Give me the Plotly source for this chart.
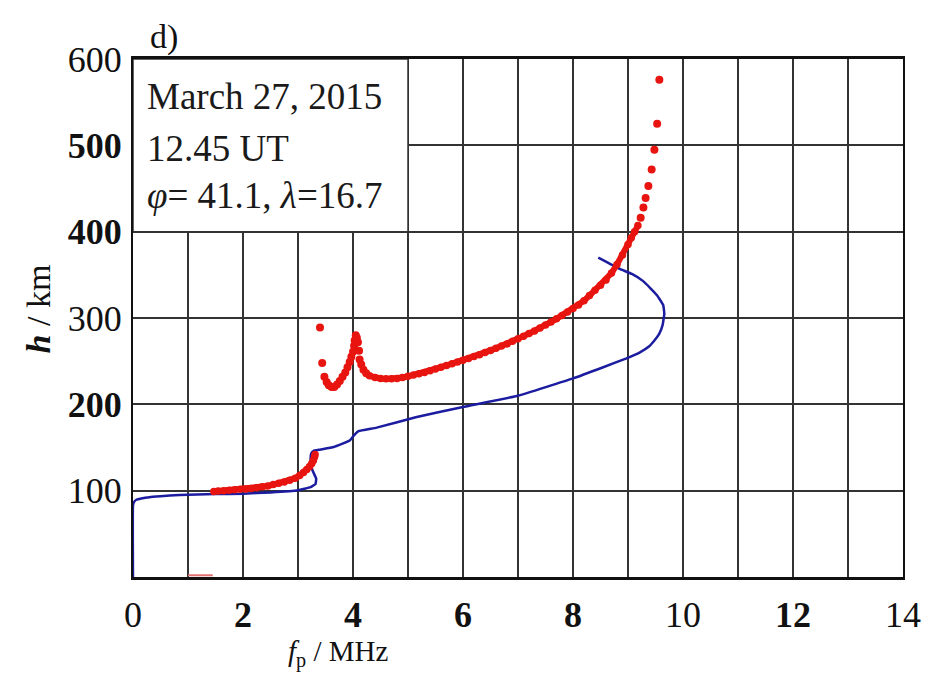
import plotly.graph_objects as go

# ---- data ----
# blue model profile (f_p in MHz, h in km)
blue_f = [0.0, 0.0, 0.02, 0.06, 0.15, 0.3, 0.5, 0.84, 1.5, 2.0, 2.5, 3.0, 3.23, 3.32, 3.33,
          3.26, 3.23, 3.24, 3.28, 3.4, 3.65, 3.94, 4.03, 4.1, 4.43, 5.14, 6.0, 7.0, 8.0,
          8.55, 8.96, 9.21, 9.38, 9.48, 9.57, 9.63, 9.66, 9.64, 9.53, 9.4, 9.27, 9.07, 8.85, 8.46]
blue_h = [0, 83, 87, 89.5, 91, 92.5, 93.5, 95, 96, 96.5, 98, 100.5, 104, 108, 114,
          124, 135, 143, 146, 147.5, 150.5, 158, 165, 169, 173, 185, 197, 210, 230,
          243, 253, 260, 267, 274, 282, 292, 305, 315, 326, 335, 343, 351, 357, 370]

# red measured points: lower (E-layer) branch
red_low_f = [1.47, 1.55, 1.65, 1.75, 1.85, 1.95, 2.05, 2.15, 2.25, 2.35, 2.45, 2.55, 2.65,
             2.75, 2.85, 2.95, 3.03, 3.1, 3.16, 3.21, 3.25, 3.28, 3.3, 3.31]
red_low_h = [99, 99.5, 100, 100.5, 101, 101.5, 102, 102.5, 103.5, 104.5, 105.5, 107, 108.5,
             110, 112, 114.5, 117.5, 121, 124.5, 128, 131.5, 135, 139, 142]

# red measured points: isolated points before the cusp
red_iso_f = [3.4, 3.44]
red_iso_h = [289, 248]

# red measured points: cusp near 3.5-4.3 MHz
red_cusp_f = [3.48, 3.52, 3.56, 3.61, 3.66, 3.71, 3.76, 3.81, 3.86, 3.9, 3.94,
              3.97, 4.0, 4.02, 4.03, 4.05, 4.07, 4.09, 4.11, 4.12, 4.15, 4.19, 4.24]
red_cusp_h = [232, 226, 222, 220, 220, 223, 227, 232, 237, 243, 249,
              255, 261, 268, 274, 280, 277, 272, 262, 252, 246, 240, 236]

# red measured points: F-layer branch (dense part)
red_f_f = [4.3, 4.4, 4.5, 4.6, 4.7, 4.8, 4.9, 5.0, 5.1, 5.2, 5.3, 5.4, 5.5, 5.6, 5.7, 5.8,
           5.9, 6.0, 6.1, 6.2, 6.3, 6.4, 6.5, 6.6, 6.7, 6.8, 6.9, 7.0, 7.1, 7.2, 7.3, 7.4,
           7.5, 7.6, 7.7, 7.8, 7.9, 8.0, 8.1, 8.2, 8.3, 8.4, 8.5, 8.6, 8.7, 8.8, 8.9, 9.0,
           9.06, 9.12, 9.18]
red_f_h = [233, 231, 230, 229.5, 229.5, 230, 231, 232.5, 234, 235.5, 237, 239, 241, 243, 245, 247,
           249, 251, 253, 255.5, 257.5, 260, 262.5, 265, 267.5, 270, 273, 276, 279, 282, 285, 288.5,
           292, 295.5, 299, 303, 307, 311, 315, 320, 326, 332, 338, 344, 352, 362, 373, 385,
           393, 400, 407]

# red measured points: sparse top of the F branch
red_top_f = [9.23, 9.28, 9.32, 9.37, 9.43, 9.48, 9.53, 9.57]
red_top_h = [416, 428, 439, 453, 472, 495, 525, 576]

# small red mark at the base of the plot
red_base_f = [1.0, 1.45]
red_base_h = [2, 2]

x_ticks = [0, 2, 4, 6, 8, 10, 12, 14]
x_labels = ["0", "<b>2</b>", "<b>4</b>", "<b>6</b>", "<b>8</b>", "10", "<b>12</b>", "14"]
y_ticks = [100, 200, 300, 400, 500, 600]
y_labels = ["100", "<b>200</b>", "300", "<b>400</b>", "<b>500</b>", "600"]

info_lines = ["March 27, 2015", "12.45 UT", "<i>φ</i>= 41.1, <i>λ</i>=16.7"]

FONT = "Liberation Serif"
RED = "#e8140f"
BLUE = "#1c1ca0"

fig = go.Figure()

fig.add_trace(go.Scatter(x=red_base_f, y=red_base_h, mode="lines",
                         line=dict(color="#e07070", width=2), hoverinfo="skip"))
fig.add_trace(go.Scatter(x=blue_f, y=blue_h, mode="lines",
                         line=dict(color=BLUE, width=2.5, shape="spline", smoothing=0.3)))
for fx, hy in [(red_low_f, red_low_h), (red_f_f, red_f_h)]:
    fig.add_trace(go.Scatter(x=fx, y=hy, mode="lines+markers",
                             line=dict(color=RED, width=6),
                             marker=dict(color=RED, size=7.5, line=dict(width=0))))
for fx, hy in [(red_iso_f, red_iso_h), (red_cusp_f, red_cusp_h), (red_top_f, red_top_h)]:
    fig.add_trace(go.Scatter(x=fx, y=hy, mode="markers",
                             marker=dict(color=RED, size=8, line=dict(width=0))))

# white info box hiding the grid in the upper left corner
fig.add_shape(type="rect", x0=0, x1=5, y0=400, y1=600, xref="x", yref="y",
              fillcolor="white", line=dict(color="#333333", width=1.5), layer="between")

ys = [556, 496, 442]
for txt, yy in zip(info_lines, ys):
    fig.add_annotation(x=0.22, y=yy, xref="x", yref="y", text=txt, showarrow=False,
                       xanchor="left", yanchor="middle",
                       font=dict(family=FONT, size=37, color="#1a1a1a"))

fig.add_annotation(x=0.019, y=1.043, xref="paper", yref="paper", text="d)", showarrow=False,
                   xanchor="left", yanchor="middle", font=dict(family=FONT, size=34, color="#111"))
fig.add_annotation(x=0.266, y=-0.148, xref="paper", yref="paper",
                   text="<i>f</i><sub>p</sub> / MHz", showarrow=False,
                   xanchor="center", yanchor="middle", font=dict(family=FONT, size=29, color="#111"))
fig.add_annotation(x=-0.123, y=0.517, xref="paper", yref="paper",
                   text="<b><i>h</i></b> / km", showarrow=False, textangle=-90,
                   xanchor="center", yanchor="middle", font=dict(family=FONT, size=34, color="#111"))

fig.update_xaxes(range=[0, 14], tickvals=x_ticks, ticktext=x_labels, showgrid=True,
                 gridcolor="#333333", gridwidth=1.5, zeroline=False, showline=True,
                 linecolor="#111111", linewidth=2.5, mirror=True, ticks="",
                 minor=dict(dtick=1, tick0=0, showgrid=True, gridcolor="#333333", gridwidth=1.5),
                 ticklabelstandoff=4, tickfont=dict(family=FONT, size=36, color="#111"))
fig.update_yaxes(range=[0, 600], tickvals=y_ticks, ticktext=y_labels, showgrid=True,
                 gridcolor="#333333", gridwidth=1.5, zeroline=False, showline=True,
                 linecolor="#111111", linewidth=2, mirror=True, ticks="",
                 ticklabelstandoff=2, tickfont=dict(family=FONT, size=36, color="#111"))

fig.update_layout(width=933, height=675, margin=dict(l=133, r=21, t=59, b=98),
                  plot_bgcolor="white", paper_bgcolor="white", showlegend=False)

fig.write_html("out.html")
